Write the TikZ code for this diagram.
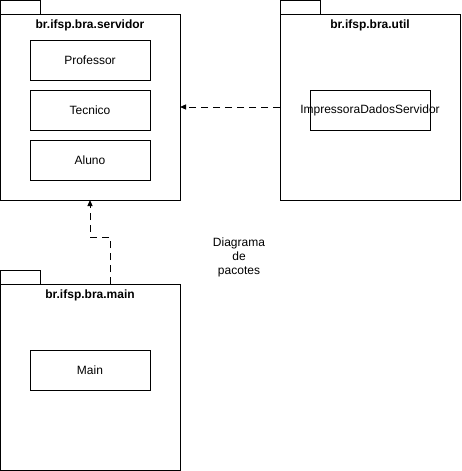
\documentclass[tikz,border=0pt]{standalone}
\usepackage{fontspec}
\setmainfont{Liberation Sans}
\usetikzlibrary{arrows.meta}
\begin{document}
\begin{tikzpicture}[x=1pt,y=-1pt,
  every node/.style={font=\fontsize{12}{14}\selectfont, inner sep=0pt},
  pkg/.style={draw=black, line width=1pt, fill=white},
  cls/.style={draw=black, line width=1pt, fill=white, minimum width=120pt, minimum height=40pt},
  pkgtitle/.style={font=\fontsize{12}{14}\selectfont\bfseries},
  dep/.style={draw=black, line width=1pt, dash pattern=on 7pt off 5pt, -{Triangle[length=6pt,width=5pt]}}]
\useasboundingbox (0,0) rectangle (461,471);
% servidor package
\draw[pkg] (0.5,0.5) rectangle (40,14);
\draw[pkg] (0.5,14) rectangle (180,200);
\coordinate (servR) at (180,107);
\coordinate (servB) at (90,200);
\node[pkgtitle] (servT) at (90,25) {br.ifsp.bra.servidor};
\node[cls] (prof) at (90,60) {Professor};
\node[cls] (tec) at (90,110) {Tecnico};
\node[cls] (alu) at (90,160) {Aluno};
% util package
\draw[pkg] (280,0.5) rectangle (320,14);
\draw[pkg] (280,14) rectangle (460,200);
\coordinate (utilL) at (280,107);
\node[pkgtitle] (utilT) at (370,25) {br.ifsp.bra.util};
\node[cls] (imp) at (370,110) {};
\node (impT) at (370,110) {ImpressoraDadosServidor};
% main package
\draw[pkg] (0.5,270) rectangle (40,284);
\draw[pkg] (0.5,284) rectangle (180,470);
\coordinate (mainT) at (110,284);
\node[pkgtitle] (mainTitle) at (90,295) {br.ifsp.bra.main};
\node[cls] (main) at (90,370) {Main};
% dependencies
\draw[dep] (utilL) -- (servR);
\draw[dep] (mainT) -- (110,237) -- (90,237) -- (servB);
% caption
\node[align=center] (cap) at (239,257) {Diagrama\\de\\pacotes};
\end{tikzpicture}
\end{document}
